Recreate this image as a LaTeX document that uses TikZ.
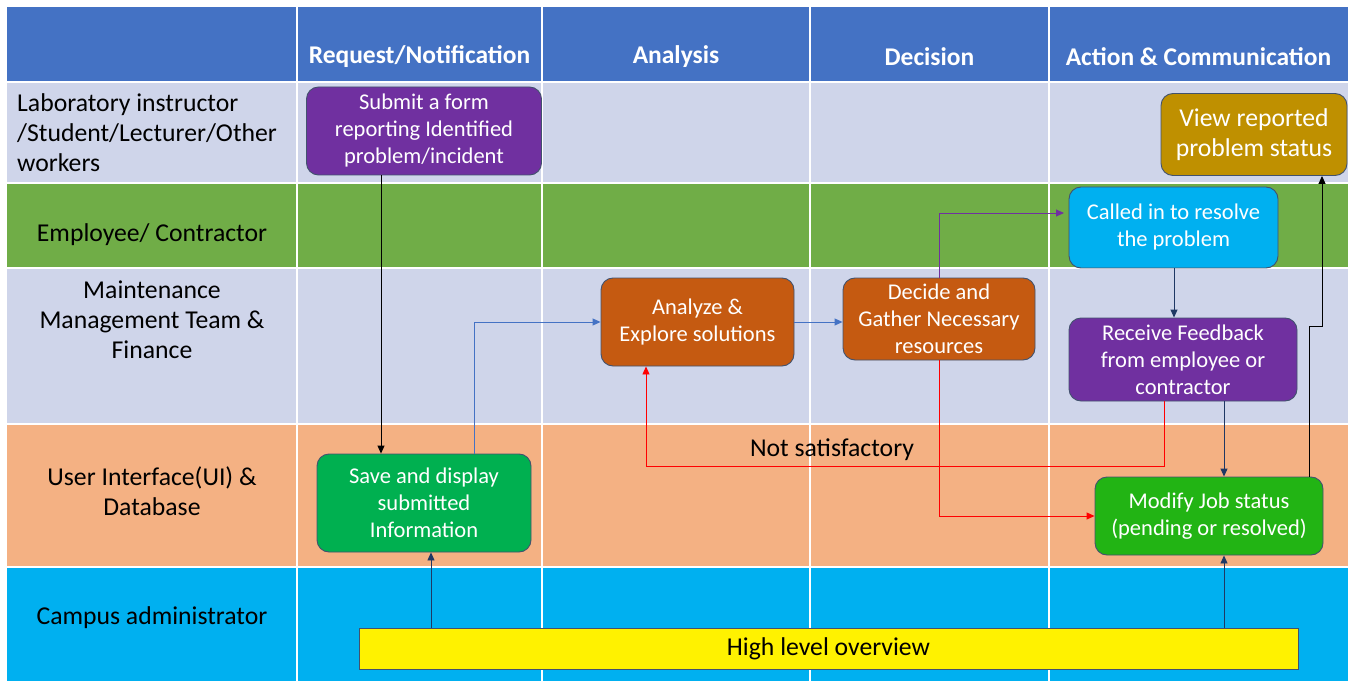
\documentclass[tikz,border=0pt]{standalone}
\usepackage{fontspec}
\setmainfont{Carlito}
\usetikzlibrary{arrows.meta}
\definecolor{hdr}{HTML}{4472C4}
\definecolor{lav}{HTML}{CFD5EA}
\definecolor{grn}{HTML}{70AD47}
\definecolor{org}{HTML}{F4B183}
\definecolor{cya}{HTML}{00B0F0}
\definecolor{purp}{HTML}{7030A0}
\definecolor{rust}{HTML}{C55A11}
\definecolor{gold}{HTML}{BF9000}
\definecolor{sgreen}{HTML}{00B050}
\definecolor{mgreen}{HTML}{22B414}
\definecolor{edge}{HTML}{42526E}
\definecolor{navy}{HTML}{1F3864}
\tikzset{
  box/.style={draw=edge, line width=0.9pt, rounded corners=12pt, inner sep=0pt, text=white, align=center, font=\fontsize{22.5}{27}\selectfont},
  lane/.style={text=black, align=center, font=\fontsize{25.7}{30}\selectfont, inner sep=0pt},
  head/.style={text=white, font=\fontsize{25.5}{28}\selectfont\bfseries, inner sep=0pt},
  grid/.style={white, line width=2.5pt},
  conn/.style={line width=0.9pt, -{Triangle[length=8pt,width=7pt]}},
}
\begin{document}
\begin{tikzpicture}[x=1pt,y=-1pt]
\useasboundingbox (0,0) rectangle (1355,687);
\fill[white] (0,0) rectangle (1355,687);
% rows
\fill[hdr] (7,7) rectangle (1348,82);
\fill[lav] (7,82) rectangle (1348,183);
\fill[grn] (7,183) rectangle (1348,268);
\fill[lav] (7,268) rectangle (1348,424);
\fill[org] (7,424) rectangle (1348,567);
\fill[cya] (7,567) rectangle (1348,681);
% grid
\foreach \yy in {82,183,268,424,567} \draw[grid] (7,\yy) -- (1348,\yy);
\foreach \xx in {297,542,810,1049} \draw[grid] (\xx,7) -- (\xx,681);
% headers
\node[head] (h1) at (419.5,57) {Request/Notification};
\node[head] (h2) at (676,57) {Analysis};
\node[head] (h3) at (929.5,57) {Decision};
\node[head] (h4) at (1198.5,57) {Action \& Communication};
% lane labels
\node[lane, align=left, anchor=west] (l1) at (17,133) {Laboratory instructor\\/Student/Lecturer/Other\\workers};
\node[lane] (l2) at (152,235) {Employee/ Contractor};
\node[lane] (l3) at (152,320) {Maintenance\\Management Team \&\\Finance};
\node[lane] (l4) at (152,491) {User Interface(UI) \&\\Database};
\node[lane] (l5) at (152,618) {Campus administrator};
% boxes
\node[box, fill=purp, minimum width=235pt, minimum height=88pt] (submit) at (424,131) {Submit a form\\reporting Identified\\problem/incident};
\node[box, fill=gold, minimum width=186pt, minimum height=82pt, font=\fontsize{25.7}{30}\selectfont] (view) at (1254,134.5) {View reported\\problem status};
\node[box, fill=cya, minimum width=209pt, minimum height=81pt] (called) at (1173.5,227.5) {Called in to resolve\\the problem};
\node[box, fill=purp, minimum width=228pt, minimum height=83pt] (recv) at (1183,359.5) {Receive Feedback\\from employee or\\contractor};
\node[box, fill=rust, minimum width=193pt, minimum height=88pt] (analyze) at (697.5,322) {Analyze \&\\Explore solutions};
\node[box, fill=rust, minimum width=192pt, minimum height=82pt] (decide) at (939,319) {Decide and\\Gather Necessary\\resources};
\node[box, fill=sgreen, minimum width=214pt, minimum height=98pt] (save) at (424,503) {Save and display\\submitted\\Information};
\node[box, fill=mgreen, minimum width=228pt, minimum height=78pt] (modify) at (1209,516) {Modify Job status\\(pending or resolved)};
\node[draw=edge, line width=0.9pt, fill=yellow, minimum width=939pt, minimum height=41pt, inner sep=0pt, font=\fontsize{25.7}{30}\selectfont] (over) at (828.5,648.5) {High level overview};
\node[font=\fontsize{25.7}{30}\selectfont, inner sep=0pt] (ns) at (832,450) {Not satisfactory};
% helper coordinates
\coordinate (c381) at (381,0);
\coordinate (c474) at (474,0);
\coordinate (c431) at (431,0);
\coordinate (c939) at (939,0);
\coordinate (c646) at (646,0);
\coordinate (c1164) at (1164,0);
\coordinate (c1174) at (1174,0);
\coordinate (c1224) at (1224,0);
\coordinate (c1309) at (1309,0);
\coordinate (c1322) at (1322,0);
\coordinate (r213) at (0,213);
\coordinate (r322) at (0,322);
\coordinate (r326) at (0,326);
\coordinate (r466) at (0,466);
\coordinate (r516) at (0,516);
\coordinate (callin) at (1064,213);
% connectors
\draw[conn, black] (submit.south -| c381) -- (save.north -| c381);
\draw[conn, hdr] (save.north -| c474) -- (c474 |- r322) -- (analyze.west |- r322);
\draw[conn, hdr] (analyze.east |- r322) -- (decide.west |- r322);
\draw[conn, purp] (decide.north -| c939) -- (c939 |- r213) -- (callin);
\draw[conn, red] (decide.south -| c939) -- (c939 |- r516) -- (modify.west |- r516);
\draw[conn, red] (recv.south -| c1164) -- (c1164 |- r466) -- (c646 |- r466) -- (analyze.south -| c646);
\draw[conn, navy] (called.south -| c1174) -- (recv.north -| c1174);
\draw[conn, navy] (recv.south -| c1224) -- (modify.north -| c1224);
\draw[conn, black] (modify.north -| c1309) -- (c1309 |- r326) -- (c1322 |- r326) -- (view.south -| c1322);
\draw[conn, navy] (over.north -| c431) -- (save.south -| c431);
\draw[conn, navy] (over.north -| c1224) -- (modify.south -| c1224);
\end{tikzpicture}
\end{document}
